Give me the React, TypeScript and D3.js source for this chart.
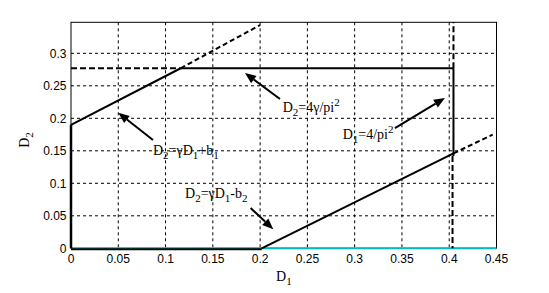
import React from "react";
import * as d3 from "d3";

const xTicks = [0, 0.05, 0.1, 0.15, 0.2, 0.25, 0.3, 0.35, 0.4, 0.45];
const yTicks = [0, 0.05, 0.1, 0.15, 0.2, 0.25, 0.3];

type P = [number, number];
const upperSolid: P[] = [[0, 0.19], [0.116, 0.277]];
const upperDashed: P[] = [[0.116, 0.277], [0.2, 0.3435]];
const horizDashed: P[] = [[0, 0.277], [0.116, 0.277]];
const horizSolid: P[] = [[0.116, 0.277], [0.4045, 0.277]];
const vertSolid: P[] = [[0.4045, 0.277], [0.4045, 0.142]];
const vertDashedTop: P[] = [[0.4045, 0.277], [0.4045, 0.3477]];
const vertDashedBottom: P[] = [[0.4035, 0.142], [0.4035, 0]];
const lowerSolid: P[] = [[0.2017, 0], [0.4045, 0.146]];
const lowerDashed: P[] = [[0.4045, 0.146], [0.446, 0.175]];
const leftSolid: P[] = [[0, 0], [0, 0.19]];
const bottomSolid: P[] = [[0, 0], [0.2017, 0]];
const zeroLine: P[] = [[0, 0], [0.45, 0]];

const W = 549, H = 293;
const M = { left: 71, right: 496.5, top: 22.3, bottom: 248.3 };

const x = d3.scaleLinear().domain([0, 0.45]).range([M.left, M.right]);
const y = d3.scaleLinear().domain([0, 0.3477]).range([M.bottom, M.top]);
const line = d3.line<P>().x((d) => x(d[0])).y((d) => y(d[1]));

const fmt = (v: number) => (v === 0 ? "0" : String(+v.toFixed(2)));

// annotation arrows in data units: [tail, head]
const arrows: [P, P][] = [
  [[0.0867, 0.1666], [0.05, 0.2086]],
  [[0.221, 0.2297], [0.184, 0.2697]],
  [[0.3426, 0.185], [0.3955, 0.2312]],
  [[0.19, 0.062], [0.2139, 0.0292]],
];

function Arrow({ t, h }: { t: P; h: P }) {
  const x1 = x(t[0]), y1 = y(t[1]), x2 = x(h[0]), y2 = y(h[1]);
  const ang = Math.atan2(y2 - y1, x2 - x1);
  const L = 11, Wd = 4.5;
  const bx = x2 - L * Math.cos(ang), by = y2 - L * Math.sin(ang);
  const px = -Math.sin(ang) * Wd, py = Math.cos(ang) * Wd;
  return (
    <g>
      <line x1={x1} y1={y1} x2={bx} y2={by} stroke="#000" strokeWidth={2} />
      <polygon points={`${x2},${y2} ${bx + px},${by + py} ${bx - px},${by - py}`} fill="#000" />
    </g>
  );
}

const FS = 14;
const SUB = 11;

export default function App() {
  return (
    <svg width={W} height={H} style={{ position: "absolute", left: 0, top: 0, background: "#fff" }}
      fontFamily="'Liberation Serif', 'Times New Roman', serif">
      <rect x={0} y={0} width={W} height={H} fill="#fff" />
      {/* grid */}
      {xTicks.slice(1, -1).map((t) => (
        <line key={"gx" + t} x1={x(t)} x2={x(t)} y1={M.top} y2={M.bottom} stroke="#000" strokeWidth={1} strokeDasharray="3,3" />
      ))}
      {yTicks.slice(1).map((t) => (
        <line key={"gy" + t} x1={M.left} x2={M.right} y1={y(t)} y2={y(t)} stroke="#000" strokeWidth={1} strokeDasharray="3,3" />
      ))}
      {/* frame */}
      <rect x={M.left} y={M.top} width={M.right - M.left} height={M.bottom - M.top} fill="none" stroke="#000" strokeWidth={1} />
      {/* tick labels */}
      {xTicks.map((t) => (
        <text key={"tx" + t} x={x(t)} y={263} textAnchor="middle" fontFamily="'Liberation Sans', Arial, sans-serif" fontSize={12}>
          {fmt(t)}
        </text>
      ))}
      {yTicks.map((t) => (
        <text key={"ty" + t} x={66.5} y={y(t) + 4.5} textAnchor="end" fontFamily="'Liberation Sans', Arial, sans-serif" fontSize={12}>
          {fmt(t)}
        </text>
      ))}
      {/* axis titles */}
      <text x={276} y={281} fontSize={FS}>
        D<tspan fontSize={SUB} dy={4}>1</tspan>
      </text>
      <text transform="translate(29,140) rotate(-90)" fontSize={FS} textAnchor="middle">
        D<tspan fontSize={SUB} dy={4}>2</tspan>
      </text>
      {/* curves */}
      <path d={line(zeroLine)!} stroke="#00bcbc" strokeWidth={2} fill="none" />
      <path d={line(leftSolid)!} stroke="#000" strokeWidth={2.5} fill="none" />
      <path d={line(bottomSolid)!} stroke="#000" strokeWidth={2} fill="none" transform="translate(0,1)" />
      <path d={line(upperSolid)!} stroke="#000" strokeWidth={2} fill="none" />
      <path d={line(upperDashed)!} stroke="#000" strokeWidth={2} fill="none" strokeDasharray="5,3" />
      <path d={line(horizDashed)!} stroke="#000" strokeWidth={2} fill="none" strokeDasharray="6,3" />
      <path d={line(horizSolid)!} stroke="#000" strokeWidth={2} fill="none" />
      <path d={line(vertSolid)!} stroke="#000" strokeWidth={2} fill="none" />
      <path d={line(vertDashedTop)!} stroke="#000" strokeWidth={2} fill="none" strokeDasharray="6,3" />
      <path d={line(vertDashedBottom)!} stroke="#000" strokeWidth={2} fill="none" strokeDasharray="6,3" />
      <path d={line(lowerSolid)!} stroke="#000" strokeWidth={2} fill="none" />
      <path d={line(lowerDashed)!} stroke="#000" strokeWidth={2} fill="none" strokeDasharray="5,3" />
      {/* arrows */}
      {arrows.map((a, i) => (
        <Arrow key={i} t={a[0]} h={a[1]} />
      ))}
      {/* annotation texts */}
      <text x={x(0.0867)} y={y(0.1435)} fontSize={FS}>
        D<tspan fontSize={SUB} dy={4}>2</tspan>
        <tspan dy={-4}>=γD</tspan>
        <tspan fontSize={SUB} dy={4}>1</tspan>
        <tspan dy={-4}>+b</tspan>
        <tspan fontSize={SUB} dy={4}>1</tspan>
      </text>
      <text x={x(0.2239)} y={y(0.2097)} fontSize={FS}>
        D<tspan fontSize={SUB} dy={4}>2</tspan>
        <tspan dy={-4}>=4γ/pi</tspan>
        <tspan fontSize={SUB} dy={-6}>2</tspan>
      </text>
      <text x={x(0.2873)} y={y(0.1682)} fontSize={FS}>
        D<tspan fontSize={SUB} dy={4}>1</tspan>
        <tspan dy={-4}>=4/pi</tspan>
        <tspan fontSize={SUB} dy={-6}>2</tspan>
      </text>
      <text x={x(0.1206)} y={y(0.0774)} fontSize={FS}>
        D<tspan fontSize={SUB} dy={4}>2</tspan>
        <tspan dy={-4}>=γD</tspan>
        <tspan fontSize={SUB} dy={4}>1</tspan>
        <tspan dy={-4}>-b</tspan>
        <tspan fontSize={SUB} dy={4}>2</tspan>
      </text>
    </svg>
  );
}
